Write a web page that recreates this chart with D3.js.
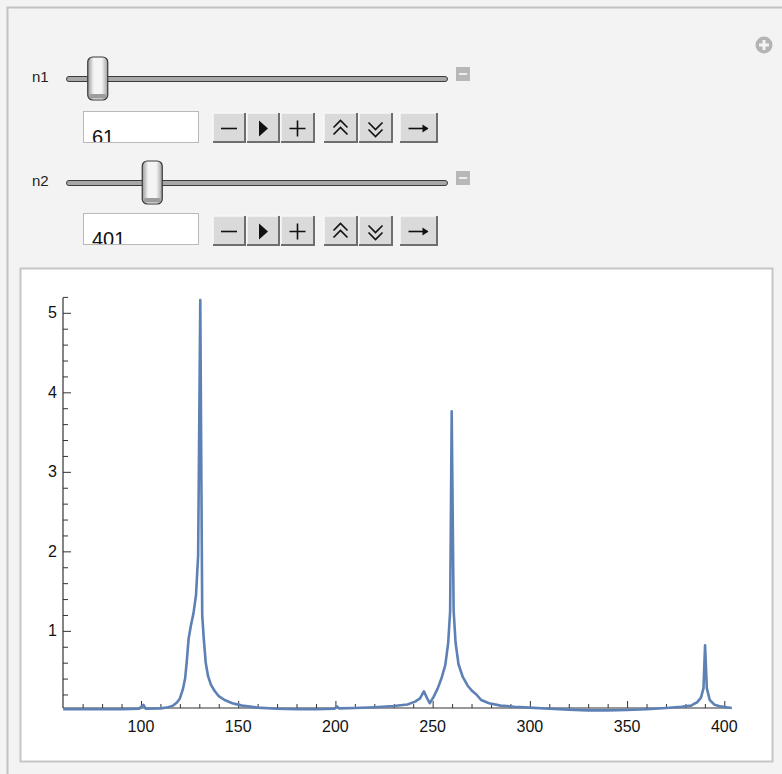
<!DOCTYPE html>
<html>
<head>
<meta charset="utf-8">
<script src="https://cdn.jsdelivr.net/npm/d3@7"></script>
<style>
  body { margin: 0; background: #f3f3f3; }
  svg { display: block; font-family: "Liberation Sans", Arial, Helvetica, sans-serif; }
</style>
</head>
<body>
<script>
// spectrum points (x, |F|)
var specX = [60, 70, 80, 90, 99, 101.3, 102.5, 110, 114, 116.5, 118.5, 120, 121.5, 122.7, 123.5, 124.5, 125.7, 127, 128.3, 129.4,
  130.5, 131.5, 132.3, 133.3, 134.5, 136, 138, 140, 143, 147, 152, 160, 170, 180, 190, 199.5, 200.8, 202, 210, 220,
  230, 237, 241, 243.5, 245.5, 247, 248.5, 250.5, 252.5, 254.5, 256.5, 258, 259, 259.8, 260.8, 261.8, 263.3, 265.5, 268, 270.5,
  272.5, 275, 279, 285, 292, 300, 310, 320, 330, 340, 350, 360, 370, 378, 383, 384.3, 386, 388, 389.3, 390.1,
  391, 392.5, 395, 398, 401, 403.8];
var specY = [0.015, 0.015, 0.015, 0.015, 0.02, 0.07, 0.02, 0.025, 0.04, 0.06, 0.1, 0.15, 0.26, 0.4, 0.6, 0.9, 1.07, 1.22, 1.45, 1.95,
  5.16, 1.2, 0.9, 0.6, 0.43, 0.32, 0.24, 0.18, 0.13, 0.09, 0.06, 0.035, 0.02, 0.015, 0.015, 0.02, 0.05, 0.025, 0.03, 0.04,
  0.055, 0.075, 0.11, 0.15, 0.24, 0.16, 0.09, 0.17, 0.27, 0.4, 0.57, 0.85, 1.25, 3.76, 1.25, 0.85, 0.58, 0.42, 0.31, 0.24,
  0.2, 0.13, 0.09, 0.06, 0.045, 0.035, 0.02, 0.01, 0.0, 0.0, 0.005, 0.015, 0.03, 0.045, 0.06, 0.08, 0.1, 0.16, 0.28, 0.82,
  0.28, 0.13, 0.07, 0.05, 0.04, 0.03];

var xTicks = [100, 150, 200, 250, 300, 350, 400];
var yTicks = [1, 2, 3, 4, 5];

// manipulate controls
var sliderLabels = ["n1", "n2"];
var sliderValues = [61, 401];
var sliderMin = [1, 1];
var sliderMax = [1000, 1900];
var buttonGlyphs = ["minus", "play", "plus", "faster", "slower", "step"];

var W = 782, H = 774;

var svg = d3.select("body").append("svg")
    .attr("width", W)
    .attr("height", H);

//outer panel
svg.append("rect")
    .attr("x", 7.5).attr("y", 7.5)
    .attr("width", W + 10).attr("height", H + 10)
    .attr("fill", "#f3f3f3")
    .attr("stroke", "#c2c2c2")
    .attr("stroke-width", 2);

//plus icon top right
var plusIcon = svg.append("g").attr("transform", "translate(764,45)");
plusIcon.append("circle").attr("r", 8.5).attr("fill", "#b4b4b4");
plusIcon.append("path").attr("d", "M-5,0H5M0,-5V5").attr("stroke", "#f3f3f3").attr("stroke-width", 3);

var defs = svg.append("defs");
var thumbGrad = defs.append("linearGradient").attr("id", "thumbGrad").attr("x1", 0).attr("x2", 1).attr("y1", 0).attr("y2", 0);
thumbGrad.append("stop").attr("offset", "0%").attr("stop-color", "#9a9a9a");
thumbGrad.append("stop").attr("offset", "30%").attr("stop-color", "#f4f4f4");
thumbGrad.append("stop").attr("offset", "70%").attr("stop-color", "#f4f4f4");
thumbGrad.append("stop").attr("offset", "100%").attr("stop-color", "#a0a0a0");

var rowY = [79, 183];       // slider track centre
var boxTop = [111, 213];    // input field top
var btnTop = [113, 216];

var buttonX = [213, 247, 281, 324, 359, 400];
var buttonW = [32, 32, 33, 33, 33, 37];

sliderLabels.forEach(function(lab, i){
    var track = d3.scaleLinear().domain([sliderMin[i], sliderMax[i]]).range([76, 438]);
    var g = svg.append("g");

    g.append("text")
        .attr("x", 32).attr("y", rowY[i] + 3)
        .attr("font-size", 15)
        .attr("fill", "#222")
        .text(lab);

    //track
    g.append("rect")
        .attr("x", 66.5).attr("y", rowY[i] - 2.5)
        .attr("width", 381).attr("height", 5)
        .attr("rx", 2.5)
        .attr("fill", "#a8a8a8")
        .attr("stroke", "#3c3c3c")
        .attr("stroke-width", 1);

    //thumb
    var tx = track(sliderValues[i]);
    g.append("rect")
        .attr("x", tx - 10).attr("y", rowY[i] - 22)
        .attr("width", 20).attr("height", 43)
        .attr("rx", 5)
        .attr("fill", "url(#thumbGrad)")
        .attr("stroke", "#3a3a3a")
        .attr("stroke-width", 1.2);
    g.append("rect")
        .attr("x", tx - 8.5).attr("y", rowY[i] + 15)
        .attr("width", 17).attr("height", 4.5)
        .attr("rx", 2)
        .attr("fill", "#9c9c9c");

    //minus icon
    g.append("rect")
        .attr("x", 456).attr("y", rowY[i] - 12)
        .attr("width", 14).attr("height", 14)
        .attr("fill", "#b8b8b8");
    g.append("path")
        .attr("d", "M459," + (rowY[i] - 5) + "H467")
        .attr("stroke", "#eeeeee").attr("stroke-width", 2);

    //input field with clipped value
    var clipId = "clip" + i;
    defs.append("clipPath").attr("id", clipId)
        .append("rect")
        .attr("x", 83).attr("y", boxTop[i])
        .attr("width", 116).attr("height", 31);
    g.append("rect")
        .attr("x", 83.5).attr("y", boxTop[i] + 0.5)
        .attr("width", 115).attr("height", 31)
        .attr("fill", "#fff")
        .attr("stroke", "#b9b9b9");
    g.append("text")
        .attr("clip-path", "url(#" + clipId + ")")
        .attr("x", 92).attr("y", boxTop[i] + 33)
        .attr("font-size", 20)
        .attr("fill", "#111")
        .text(sliderValues[i]);

    //animator buttons
    buttonGlyphs.forEach(function(gl, j){
        var bx = buttonX[j], by = btnTop[i], bw = buttonW[j], bh = 29;
        var b = g.append("g").attr("transform", "translate(" + bx + "," + by + ")");
        b.append("rect").attr("width", bw).attr("height", bh).attr("fill", "#dadada");
        b.append("path").attr("d", "M0," + bh + "V0H" + bw).attr("fill", "none").attr("stroke", "#f7f7f7").attr("stroke-width", 1.5);
        b.append("path").attr("d", "M" + bw + ",0V" + bh + "H0").attr("fill", "none").attr("stroke", "#6e6e6e").attr("stroke-width", 2);
        var cx = bw / 2, cy = bh / 2 + 1;
        var ink = b.append("g").attr("stroke", "#111").attr("fill", "none").attr("stroke-width", 1.6);
        if (gl === "minus") {
            ink.append("path").attr("d", "M" + (cx - 8) + "," + cy + "H" + (cx + 8));
        } else if (gl === "plus") {
            ink.append("path").attr("d", "M" + (cx - 8) + "," + cy + "H" + (cx + 8) + "M" + cx + "," + (cy - 8) + "V" + (cy + 8));
        } else if (gl === "play") {
            ink.append("path").attr("d", "M" + (cx - 4) + "," + (cy - 8) + "L" + (cx + 5) + "," + cy + "L" + (cx - 4) + "," + (cy + 8) + "Z")
                .attr("fill", "#111").attr("stroke", "none");
        } else if (gl === "faster") {
            ink.append("path").attr("d", "M" + (cx - 7) + "," + (cy - 1) + "L" + cx + "," + (cy - 8) + "L" + (cx + 7) + "," + (cy - 1)
                + "M" + (cx - 7) + "," + (cy + 6) + "L" + cx + "," + (cy - 1) + "L" + (cx + 7) + "," + (cy + 6));
        } else if (gl === "slower") {
            ink.append("path").attr("d", "M" + (cx - 7) + "," + (cy - 6) + "L" + cx + "," + (cy + 1) + "L" + (cx + 7) + "," + (cy - 6)
                + "M" + (cx - 7) + "," + (cy + 1) + "L" + cx + "," + (cy + 8) + "L" + (cx + 7) + "," + (cy + 1));
        } else {
            ink.append("path").attr("d", "M" + (cx - 10) + "," + cy + "H" + (cx + 9));
            ink.append("path").attr("d", "M" + (cx + 4) + "," + (cy - 4) + "L" + (cx + 10) + "," + cy + "L" + (cx + 4) + "," + (cy + 4) + "Z")
                .attr("fill", "#111").attr("stroke", "none");
        }
    });
});

//plot frame
svg.append("rect")
    .attr("x", 20.5).attr("y", 268.5)
    .attr("width", 752).attr("height", 493)
    .attr("fill", "#fff")
    .attr("stroke", "#c6c6c6")
    .attr("stroke-width", 2);

//scales
var x = d3.scaleLinear().domain([59.9, 403.8]).range([63, 731.7]);
var y = d3.scaleLinear().domain([0.03, 5.19]).range([708, 297.7]);

var axisColor = "#333";

//x axis: ticks point up into the plot
var xMinor = d3.range(70, 404, 10).filter(function(v){ return v % 50 !== 0; });
svg.append("g").attr("transform", "translate(0," + y(0.03) + ")")
    .call(d3.axisTop(x).tickValues(xTicks).tickSize(7).tickFormat(""));
svg.append("g").attr("transform", "translate(0," + y(0.03) + ")")
    .call(d3.axisTop(x).tickValues(xMinor).tickSize(4).tickFormat(""));
svg.selectAll(".domain").remove();
svg.append("line")
    .attr("x1", x(59.9)).attr("x2", x(403.8))
    .attr("y1", y(0.03)).attr("y2", y(0.03))
    .attr("stroke", axisColor).attr("stroke-width", 1.2);

svg.append("g").selectAll("text")
    .data(xTicks).enter()
    .append("text")
    .attr("x", function(d){ return x(d); })
    .attr("y", 732)
    .attr("text-anchor", "middle")
    .attr("font-size", 16)
    .attr("fill", "#111")
    .text(function(d){ return d; });

//y axis: ticks point right into the plot
var yMinor = d3.range(0.2, 5.25, 0.2).filter(function(v){ return Math.abs(v - Math.round(v)) > 0.01; });
svg.append("g").attr("transform", "translate(" + x(59.9) + ",0)")
    .call(d3.axisRight(y).tickValues(yTicks).tickSize(8).tickFormat(""));
svg.append("g").attr("transform", "translate(" + x(59.9) + ",0)")
    .call(d3.axisRight(y).tickValues(yMinor).tickSize(5).tickFormat(""));
svg.selectAll(".domain").remove();
svg.selectAll(".tick line").attr("stroke", axisColor).attr("stroke-width", 1);
svg.append("line")
    .attr("x1", x(59.9)).attr("x2", x(59.9))
    .attr("y1", y(5.19)).attr("y2", y(0.03))
    .attr("stroke", axisColor).attr("stroke-width", 1.2);

svg.append("g").selectAll("text")
    .data(yTicks).enter()
    .append("text")
    .attr("x", x(59.9) - 6)
    .attr("y", function(d){ return y(d) + 5.5; })
    .attr("text-anchor", "end")
    .attr("font-size", 16)
    .attr("fill", "#111")
    .text(function(d){ return d; });

//the spectrum line
var pts = specX.map(function(v, i){ return [v, specY[i]]; });
var line = d3.line()
    .x(function(d){ return x(d[0]); })
    .y(function(d){ return y(d[1]); });

svg.append("path")
    .datum(pts)
    .attr("d", line)
    .attr("fill", "none")
    .attr("stroke", "#5e81b5")
    .attr("stroke-width", 2.6)
    .attr("stroke-linejoin", "round")
    .attr("stroke-linecap", "butt");
</script>
</body>
</html>
